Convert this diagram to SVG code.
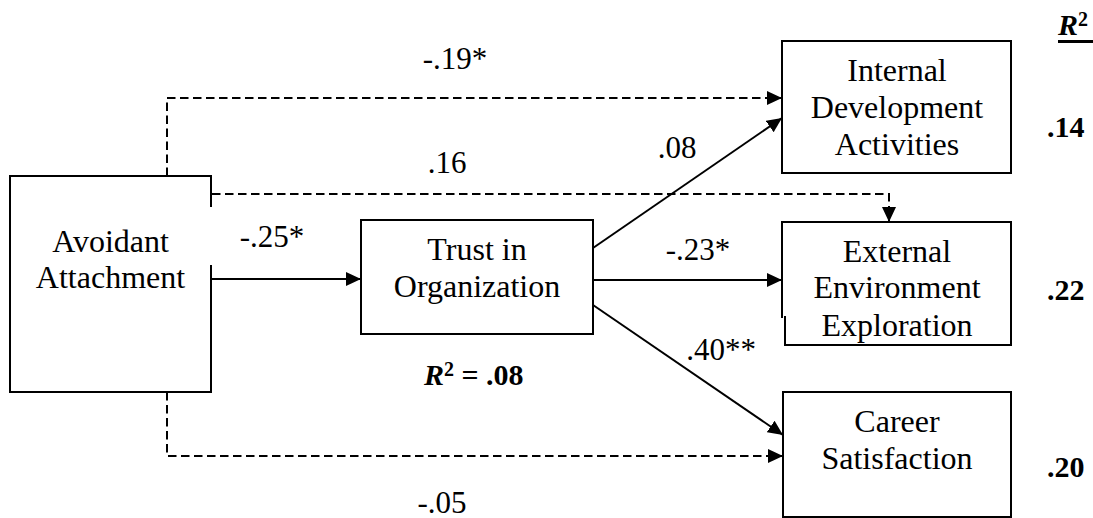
<svg xmlns="http://www.w3.org/2000/svg" width="1093" height="518" viewBox="0 0 1093 518">
<style>
text{font-family:"Liberation Serif","Times New Roman",serif;fill:#000}
.node{font-size:32px;text-anchor:middle}
.lab{font-size:31px;text-anchor:middle}
.r2{font-size:30px;font-weight:bold}
.box{fill:#fff;stroke:#000;stroke-width:2}
.edge{fill:none;stroke:#000;stroke-width:2}
.dash{stroke-dasharray:8.5 4.5}
</style>
<defs>
<marker id="ah" markerUnits="userSpaceOnUse" markerWidth="16" markerHeight="14" refX="15" refY="7" orient="auto" viewBox="0 0 16 14">
<path d="M0,0 L15,7 L0,14 Z" fill="#000"/>
</marker>
<clipPath id="extclip"><rect x="783" y="222" width="228" height="121"/></clipPath>
</defs>

<g id="avoidant">
<rect x="10" y="176" width="201" height="216" fill="#fff"/>
<path class="edge" d="M211,207 V176 H10 V392 H211 V265"/>
<text class="node" x="110.5" y="252">Avoidant</text>
<text class="node" x="110.5" y="288">Attachment</text>
</g>

<g id="trust">
<rect class="box" x="361" y="220" width="232" height="114"/>
<text class="node" x="477" y="260">Trust in</text>
<text class="node" x="477" y="297">Organization</text>
</g>

<g id="internal">
<rect class="box" x="782" y="41" width="229" height="132"/>
<text class="node" x="897" y="81">Internal</text>
<text class="node" x="897" y="118">Development</text>
<text class="node" x="897" y="155">Activities</text>
</g>

<g id="external">
<rect x="782" y="222" width="229" height="123" fill="#fff"/>
<path class="edge" d="M782,318 V222 H1011 V345 H785 V316"/>
<g clip-path="url(#extclip)">
<text class="node" x="897" y="262">External</text>
<text class="node" x="897" y="298">Environment</text>
<text class="node" x="897" y="336">Exploration</text>
</g>
</g>

<g id="career">
<rect class="box" x="783" y="392" width="228" height="125"/>
<text class="node" x="897" y="432">Career</text>
<text class="node" x="897" y="469">Satisfaction</text>
</g>

<g id="connectors">
<path class="edge dash" d="M167,176 V98 H782" marker-end="url(#ah)"/>
<path class="edge dash" d="M212,194 H889 V222" marker-end="url(#ah)"/>
<path class="edge dash" d="M167,392 V456 H783" marker-end="url(#ah)"/>
<path class="edge" d="M211,279 H361" marker-end="url(#ah)"/>
<path class="edge" d="M593,248 L782,118" marker-end="url(#ah)"/>
<path class="edge" d="M593,280 H782" marker-end="url(#ah)"/>
<path class="edge" d="M593,305 L783,435" marker-end="url(#ah)"/>
</g>

<g id="labels">
<text class="lab" x="455" y="69">-.19*</text>
<text class="lab" x="447" y="173">.16</text>
<text class="lab" x="272" y="247">-.25*</text>
<text class="lab" x="677" y="158">.08</text>
<text class="lab" x="698" y="260">-.23*</text>
<text class="lab" x="721" y="360">.40**</text>
<text class="lab" x="442" y="513">-.05</text>
<text class="r2" x="424" y="385" font-size="32"><tspan font-style="italic">R</tspan><tspan font-size="20" dy="-9">2</tspan><tspan dy="9"> = .08</tspan></text>
</g>

<g id="rsquared">
<text class="r2" x="1058" y="35" font-size="31"><tspan font-style="italic">R</tspan><tspan font-size="20" dy="-9">2</tspan></text>
<rect x="1058" y="40" width="35" height="3" fill="#000"/>
<text class="r2" x="1047" y="137">.14</text>
<text class="r2" x="1047" y="300">.22</text>
<text class="r2" x="1047" y="477">.20</text>
</g>
</svg>
